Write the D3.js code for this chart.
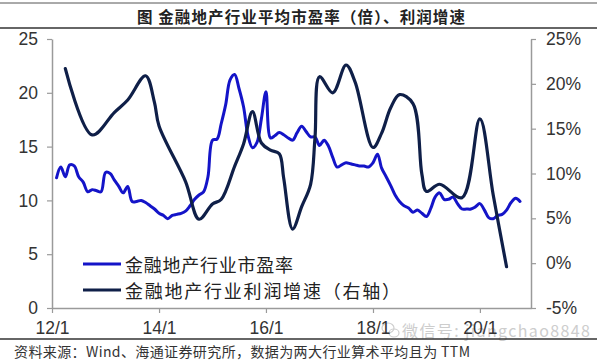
<!DOCTYPE html>
<html>
<head>
<meta charset="utf-8">
<script src="https://cdn.jsdelivr.net/npm/d3@7"></script>
<style>
  html, body { margin: 0; padding: 0; background: #fff; }
  svg { display: block; }
</style>
</head>
<body>
<svg id="chart" width="600" height="360"></svg>
<script>
// ---- data ----
const titleText = "图  金融地产行业平均市盈率（倍）、利润增速";
const sourceText = "资料来源：Wind、海通证券研究所，数据为两大行业算术平均且为 TTM";
const watermarkText = "微信号: jiangchao8848";
const seriesNames = ["金融地产行业市盈率", "金融地产行业利润增速（右轴）"];

// PE (left axis), monthly from 2012-02 to 2020-10
const peStart = "2012-02";
const peValues = [
  12.1, 13.1, 12.2, 13.3, 13.2, 12.2, 11.7, 10.8, 11.0, 10.9, 10.8,
  12.6, 12.5, 11.9, 11.3, 10.7, 11.3, 9.9, 9.9, 10.0, 9.8, 9.5, 9.2,
  8.8, 8.6, 8.3, 8.6, 8.7, 8.8, 9.0, 9.5, 10.1, 10.5, 10.8, 12.2,
  15.6, 15.7, 17.1, 18.9, 21.2, 21.7, 20.4, 18.7, 16.0, 14.9, 15.4, 17.6,
  20.1, 15.8, 16.0, 16.3, 16.1, 15.8, 15.6, 16.3, 16.9, 16.4, 15.9, 15.9,
  15.1, 15.6, 15.1, 14.0, 13.1, 13.3, 13.5, 13.4, 13.3, 13.2, 13.2, 13.1,
  13.5, 14.3, 13.0, 12.2, 11.4, 10.5, 9.9, 9.5, 9.3, 8.9, 9.1, 8.8,
  8.5, 9.3, 10.3, 10.7, 10.1, 10.1, 10.3, 9.7, 9.2, 9.2, 9.2, 9.4,
  9.7, 9.1, 8.4, 8.3, 8.6, 8.7, 9.1, 9.8, 10.2, 9.9
];

// Profit growth (right axis, %)
const profitDates = [
  "2012-04", "2012-10", "2013-03", "2013-06", "2013-10", "2013-12", "2014-01",
  "2014-07", "2014-10", "2015-01", "2015-03", "2015-06", "2015-08", "2015-10",
  "2015-12", "2016-02", "2016-04", "2016-05", "2016-07", "2016-09", "2016-11",
  "2016-12", "2017-01", "2017-04", "2017-07", "2017-09", "2018-01", "2018-03",
  "2018-05", "2018-07", "2018-10", "2018-12", "2019-01", "2019-04", "2019-09",
  "2020-01", "2020-04", "2020-07"
];
const profitValues = [
  21.7, 14.3, 16.8, 18.2, 20.9, 17.9, 15.3,
  9.1, 4.9, 6.6, 7.1, 10.8, 13.3, 16.9,
  13.4, 12.6, 12.2, 9.5, 3.8, 6.3, 8.8,
  14.0, 20.8, 19.0, 22.1, 20.2, 12.9, 14.5,
  17.3, 18.8, 17.8, 9.9, 8.0, 8.8, 7.3,
  16.1, 7.6, -0.4
];

const xTickLabels = ["12/1", "14/1", "16/1", "18/1", "20/1"];
const leftTicks = [0, 5, 10, 15, 20, 25];
const rightTicks = [-5, 0, 5, 10, 15, 20, 25];

// ---- drawing ----
const parse = d3.timeParse("%Y-%m");
const svg = d3.select("#chart");
const latin = "'Liberation Sans', Arial, sans-serif";
const cjk = "'Noto Sans CJK SC', 'Noto Sans', sans-serif";

const peDates = d3.timeMonth.range(parse(peStart), d3.timeMonth.offset(parse(peStart), peValues.length));
const peData = peValues.map((v, i) => ({ date: peDates[i], value: v }));
const profitData = profitDates.map((d, i) => ({ date: parse(d), value: profitValues[i] }));

const x = d3.scaleTime()
  .domain([new Date(2012, 0, 1), new Date(2020, 11, 15)])
  .range([52, 531]);
const yL = d3.scaleLinear().domain([0, 25]).range([308, 39]);
const yR = d3.scaleLinear().domain([-5, 25]).range([308, 39]);

// header lines and title
svg.append("line").attr("x1", 0).attr("x2", 597).attr("y1", 3).attr("y2", 3)
  .attr("stroke", "#555").attr("stroke-width", 1);
svg.append("line").attr("x1", 0).attr("x2", 597).attr("y1", 28).attr("y2", 28)
  .attr("stroke", "#333").attr("stroke-width", 1.6);
svg.append("text").attr("x", 301).attr("y", 15.5)
  .attr("text-anchor", "middle").attr("dominant-baseline", "central")
  .attr("font-family", cjk).attr("font-size", 15.5).attr("font-weight", 700)
  .attr("fill", "#222").attr("textLength", 328).attr("lengthAdjust", "spacing")
  .text(titleText);

// watermark
const wm = svg.append("g").attr("fill", "none").attr("stroke", "#cfcfcf").attr("stroke-width", 1.2);
wm.append("ellipse").attr("cx", 388).attr("cy", 328).attr("rx", 6).attr("ry", 5);
wm.append("ellipse").attr("cx", 394).attr("cy", 333).attr("rx", 5).attr("ry", 4);
svg.append("text").attr("x", 402).attr("y", 330)
  .attr("dominant-baseline", "central")
  .attr("font-family", cjk).attr("font-size", 16)
  .attr("fill", "#cdcdcd").attr("textLength", 188).attr("lengthAdjust", "spacing")
  .text(watermarkText);

// axes
const axisColor = "#9a9a9a";
const textColor = "#333";

const gx = svg.append("g").attr("transform", "translate(0,308)")
  .call(d3.axisBottom(x)
    .tickValues([2012, 2014, 2016, 2018, 2020].map(yy => new Date(yy, 0, 1)))
    .tickFormat((d, i) => xTickLabels[i])
    .tickSize(5).tickSizeOuter(0));
const gl = svg.append("g").attr("transform", "translate(52,0)")
  .call(d3.axisLeft(yL).tickValues(leftTicks).tickFormat(d3.format("d")).tickSize(5).tickSizeOuter(0));
const gr = svg.append("g").attr("transform", "translate(531,0)")
  .call(d3.axisRight(yR).tickValues(rightTicks).tickFormat(d => d + "%").tickSize(5).tickSizeOuter(0));

[gx, gl, gr].forEach(g => {
  g.select(".domain").attr("stroke", axisColor).attr("stroke-width", 1.5);
  g.selectAll(".tick line").attr("stroke", axisColor).attr("stroke-width", 1.2);
  g.selectAll(".tick text").attr("fill", textColor)
    .attr("font-family", latin).attr("font-size", 17.5);
});
gx.selectAll(".tick text").attr("dy", "1.05em");
gl.selectAll(".tick text").attr("x", -14);
gr.selectAll(".tick text").attr("x", 15);

// lines
const blue = "#1414c8";
const navy = "#0f1f48";
const linePE = d3.line().x(d => x(d.date)).y(d => yL(d.value)).curve(d3.curveCatmullRom.alpha(0.5));
const lineProfit = d3.line().x(d => x(d.date)).y(d => yR(d.value)).curve(d3.curveCatmullRom.alpha(0.5));

svg.append("path").datum(peData).attr("d", linePE)
  .attr("fill", "none").attr("stroke", blue).attr("stroke-width", 3)
  .attr("stroke-linejoin", "round").attr("stroke-linecap", "round");
svg.append("path").datum(profitData).attr("d", lineProfit)
  .attr("fill", "none").attr("stroke", navy).attr("stroke-width", 3.2)
  .attr("stroke-linejoin", "round").attr("stroke-linecap", "round");

// legend
const legend = [
  { name: seriesNames[0], color: blue, y: 264, len: 168 },
  { name: seriesNames[1], color: navy, y: 290, len: 275 }
];
const lg = svg.append("g");
legend.forEach(l => {
  lg.append("line").attr("x1", 83).attr("x2", 121).attr("y1", l.y).attr("y2", l.y)
    .attr("stroke", l.color).attr("stroke-width", 3.2);
  lg.append("text").attr("x", 125).attr("y", l.y)
    .attr("dominant-baseline", "central")
    .attr("font-family", cjk).attr("font-size", 18)
    .attr("fill", "#222").attr("textLength", l.len).attr("lengthAdjust", "spacing")
    .text(l.name);
});

// source
svg.append("line").attr("x1", 0).attr("x2", 597).attr("y1", 339).attr("y2", 339)
  .attr("stroke", "#333").attr("stroke-width", 1.4);
svg.append("text").attr("x", 14).attr("y", 351)
  .attr("dominant-baseline", "central")
  .attr("font-family", cjk).attr("font-size", 14)
  .attr("fill", "#333").attr("textLength", 456).attr("lengthAdjust", "spacing")
  .text(sourceText);
</script>
</body>
</html>
